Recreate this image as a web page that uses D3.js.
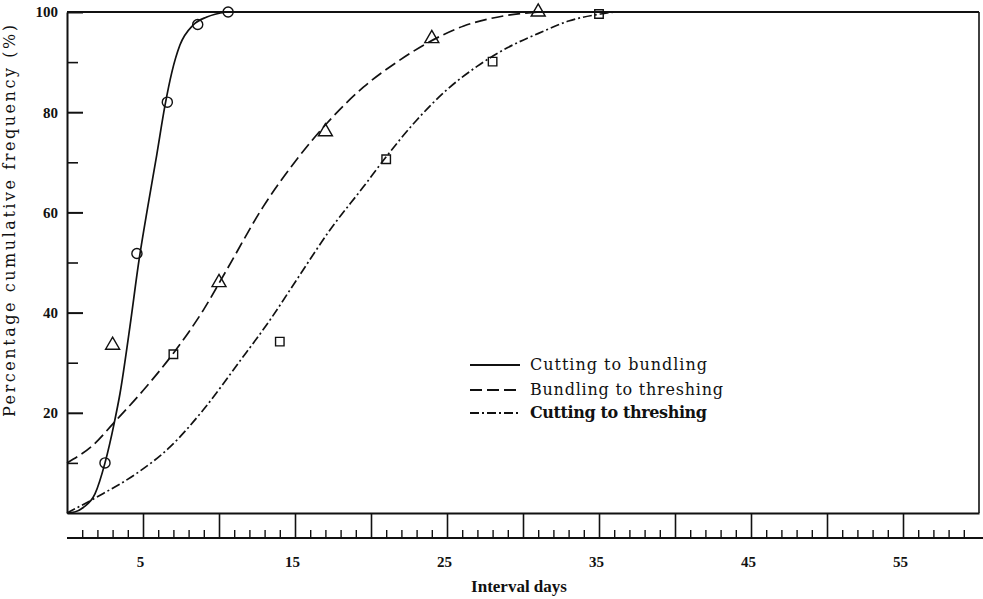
<!DOCTYPE html>
<html>
<head>
<meta charset="utf-8">
<script src="https://cdn.jsdelivr.net/npm/d3@7"></script>
<style>
body{margin:0;background:#fff;}
text{font-family:"DejaVu Serif","Liberation Serif",serif;fill:#111;}
</style>
</head>
<body>
<script>
var width = 983, height = 599;

// traced curves (days, percent)
var cbDays = [0, 0.5, 1.07, 1.84, 2.5, 3.11, 3.49, 4.14, 4.74, 5.33, 5.9, 6.45, 6.9, 7.43, 8.3, 9.2, 10.5];
var cbPct  = [0, 0.2, 1.1, 3.8, 10, 18, 23.9, 37.2, 50.5, 61.4, 71.4, 81.4, 88, 93.4, 97.4, 99, 100];

var btDays = [0, 1.73, 3.05, 5.02, 7.0, 8.97, 10.5, 12.9, 15.1, 17.1, 19.5, 21.7, 23.7, 26.1, 28.7, 31];
var btPct  = [10, 13.6, 17.9, 24.5, 31.9, 40.5, 48.5, 61.1, 70.5, 77.8, 85.0, 90.0, 93.8, 97.2, 99.2, 100];

var ctDays = [0, 2.39, 4.58, 6.78, 8.97, 11.27, 13.35, 15.1, 17.3, 19.5, 21.0, 23.0, 25, 27, 29, 31.3, 33, 35.1, 36];
var ctPct  = [0, 3.9, 7.9, 13.2, 20.6, 29.9, 38.5, 46.5, 56.5, 65.1, 71.1, 78.4, 84.5, 89.2, 92.9, 96.1, 98.2, 99.6, 100];

// observed points
var cbObsDays = [2.5, 4.6, 6.6, 8.6, 10.6];
var cbObsPct  = [10, 51.8, 82, 97.5, 100];
var btObsDays = [3, 10, 17, 24, 31];
var btObsPct  = [33.5, 46, 76.1, 94.7, 100];
var ctObsDays = [7, 14, 21, 28, 35];
var ctObsPct  = [31.7, 34.2, 70.6, 90.1, 99.6];

var yTicks = [20, 40, 60, 80, 100];
var yMinor = [10, 30, 50, 70, 90];
var xLabels = [5, 15, 25, 35, 45, 55];
var seriesNames = ["Cutting to bundling", "Bundling to threshing", "Cutting to threshing"];

var x = d3.scaleLinear().domain([0, 60]).range([67, 979]);
var y = d3.scaleLinear().domain([0, 100]).range([513, 12]);

var svg = d3.select("body").append("svg")
    .attr("width", width)
    .attr("height", height);

svg.append("rect").attr("width", width).attr("height", height).attr("fill", "#fff");

var ink = "#111";
var dashes = [null, "12,5", "9,3,2,3"];

// frame: top and right
svg.append("line").attr("x1", x(0)).attr("x2", x(60)).attr("y1", y(100)).attr("y2", y(100))
    .attr("stroke", ink).attr("stroke-width", 2);
svg.append("line").attr("x1", x(60)).attr("x2", x(60)).attr("y1", y(100)).attr("y2", y(0))
    .attr("stroke", ink).attr("stroke-width", 1.6);

// y axis
var yAxis = svg.append("g").attr("transform", "translate(" + x(0) + ",0)")
    .call(d3.axisLeft(y).tickValues(yTicks).tickSizeInner(-16).tickSizeOuter(0).tickPadding(9)
        .tickFormat(d3.format("d")));
yAxis.select(".domain").attr("stroke", ink).attr("stroke-width", 2);
yAxis.selectAll(".tick line").attr("stroke", ink).attr("stroke-width", 2);
yAxis.selectAll(".tick text").attr("font-weight", "bold")
    .style("font-family", "'Liberation Serif',serif").attr("font-size", 15);

var yMin = svg.append("g").attr("transform", "translate(" + x(0) + ",0)")
    .call(d3.axisLeft(y).tickValues(yMinor).tickSizeInner(-11).tickSizeOuter(0).tickFormat(""));
yMin.select(".domain").remove();
yMin.selectAll(".tick line").attr("stroke", ink).attr("stroke-width", 1.6);

// x axis: box bottom with major ticks
var xMajor = svg.append("g").attr("transform", "translate(0," + y(0) + ")")
    .call(d3.axisBottom(x).tickValues(d3.range(5, 60, 5)).tickSizeInner(25).tickSizeOuter(0).tickFormat(""));
xMajor.select(".domain").attr("stroke", ink).attr("stroke-width", 2);
xMajor.selectAll(".tick line").attr("stroke", ink).attr("stroke-width", 1.6);

// lower scale line with day ticks
var baseY = y(0) + 25;
var xMinor = svg.append("g").attr("transform", "translate(0," + baseY + ")")
    .call(d3.axisTop(x).tickValues(d3.range(1, 60).filter(function(d){ return d % 5 != 0; }))
        .tickSizeInner(8).tickSizeOuter(0).tickFormat(""));
xMinor.select(".domain").remove();
xMinor.selectAll(".tick line").attr("stroke", ink).attr("stroke-width", 1.4);
svg.append("line").attr("x1", x(0)).attr("x2", x(60) + 4).attr("y1", baseY).attr("y2", baseY)
    .attr("stroke", ink).attr("stroke-width", 2);

var xLab = svg.append("g").attr("transform", "translate(-3," + baseY + ")")
    .call(d3.axisBottom(x).tickValues(xLabels).tickSize(0).tickPadding(18).tickFormat(d3.format("d")));
xLab.select(".domain").remove();
xLab.selectAll(".tick text").attr("font-size", 15).attr("font-weight", "bold")
    .style("font-family", "'Liberation Serif',serif");

// axis titles
svg.append("text").attr("x", 519).attr("y", 592).attr("text-anchor", "middle")
    .attr("font-size", 17).attr("font-weight", "bold")
    .style("font-family", "'Liberation Serif',serif")
    .text("Interval days");

svg.append("text").attr("transform", "translate(15,221) rotate(-90)")
    .attr("text-anchor", "middle").attr("font-size", 16)
    .attr("textLength", 392).attr("lengthAdjust", "spacing")
    .text("Percentage cumulative frequency (%)");

// curves
var line = d3.line()
    .x(function(d){ return x(d[0]); })
    .y(function(d){ return y(d[1]); })
    .curve(d3.curveMonotoneX);

var curves = [d3.zip(cbDays, cbPct), d3.zip(btDays, btPct), d3.zip(ctDays, ctPct)];
curves.forEach(function(c, i){
    svg.append("path").datum(c)
        .attr("d", line)
        .attr("fill", "none")
        .attr("stroke", ink)
        .attr("stroke-width", 1.7)
        .attr("stroke-dasharray", dashes[i]);
});

// observed markers
var obs = [d3.zip(cbObsDays, cbObsPct), d3.zip(btObsDays, btObsPct), d3.zip(ctObsDays, ctObsPct)];
var shapes = [d3.symbolCircle, d3.symbolTriangle, d3.symbolSquare];
var sizes = [80, 85, 72];
obs.forEach(function(o, i){
    svg.append("g").selectAll("path").data(o).enter().append("path")
        .attr("transform", function(d){ return "translate(" + x(d[0]) + "," + y(d[1]) + ")"; })
        .attr("d", d3.symbol().type(shapes[i]).size(sizes[i]))
        .attr("fill", "none")
        .attr("stroke", ink)
        .attr("stroke-width", 1.4);
});

// legend
var legY = [365, 390, 413];
var legW = [177, 193, 177];
seriesNames.forEach(function(n, i){
    svg.append("line").attr("x1", 470).attr("x2", 520).attr("y1", legY[i]).attr("y2", legY[i])
        .attr("stroke", ink).attr("stroke-width", 1.8).attr("stroke-dasharray", dashes[i]);
    svg.append("text").attr("x", 530).attr("y", legY[i] + 5)
        .attr("font-size", 16)
        .attr("font-weight", i == 2 ? "bold" : "normal")
        .attr("textLength", legW[i]).attr("lengthAdjust", "spacing")
        .text(n);
});
</script>
</body>
</html>
